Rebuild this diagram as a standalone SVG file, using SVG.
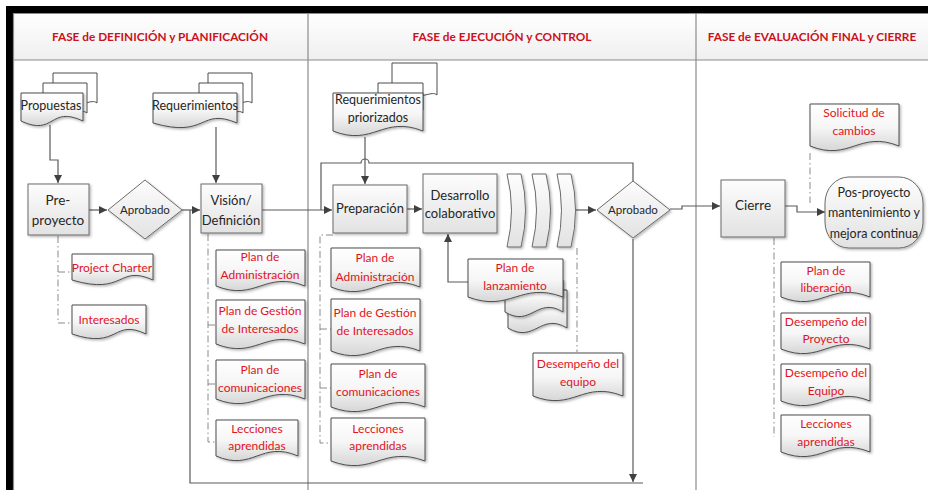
<svg xmlns="http://www.w3.org/2000/svg" width="928" height="490" viewBox="0 0 928 490">
<defs>
<linearGradient id="gBox" x1="0" y1="0" x2="0" y2="1"><stop offset="0" stop-color="#fdfdfd"/><stop offset="1" stop-color="#e2e2e2"/></linearGradient>
<linearGradient id="gDoc" x1="0" y1="0" x2="0" y2="1"><stop offset="0" stop-color="#ffffff"/><stop offset="0.5" stop-color="#f6f6f6"/><stop offset="1" stop-color="#d6d6d6"/></linearGradient>
<linearGradient id="gHead" x1="0" y1="0" x2="0" y2="1"><stop offset="0" stop-color="#ffffff"/><stop offset="1" stop-color="#efefef"/></linearGradient>
<filter id="sh" x="-10%" y="-10%" width="125%" height="130%"><feDropShadow dx="1.5" dy="1.5" stdDeviation="1" flood-color="#000" flood-opacity="0.28"/></filter>
<marker id="arr" markerWidth="8" markerHeight="8" refX="8" refY="4" orient="auto" markerUnits="userSpaceOnUse"><path d="M0,0 L8,4 L0,8 Z" fill="#404040"/></marker>
<style>
.box{fill:url(#gBox);stroke:#6b6b6b;stroke-width:1;filter:url(#sh)}
.doc{fill:url(#gDoc);stroke:#4d4d4d;stroke-width:1;filter:url(#sh)}
.docb{fill:#ffffff;stroke:#4d4d4d;stroke-width:1}
.con{fill:none;stroke:#5a5a5a;stroke-width:1.2}
.arw{marker-end:url(#arr)}
.dd{fill:none;stroke:#8a8a8a;stroke-width:1;stroke-dasharray:7 3 1.5 3}
.lane{fill:none;stroke:#8c8c8c;stroke-width:1.2}
.t{font-family:Lato,"Liberation Sans",sans-serif;font-size:13px;fill:#262626;text-anchor:middle}
.ts{font-family:Lato,"Liberation Sans",sans-serif;font-size:12.5px;fill:#262626;text-anchor:middle}
.r{font-family:Lato,"Liberation Sans",sans-serif;font-size:12px;fill:#e0141e;text-anchor:middle}
.h{font-family:Lato,"Liberation Sans",sans-serif;font-size:11.8px;font-weight:bold;fill:#cc1020;text-anchor:middle}
</style>
</defs>

<g id="frame">
<rect x="6" y="6" width="922" height="484" fill="#000"/>
<rect x="13" y="13" width="915" height="477" fill="#fff"/>
<rect x="13" y="13" width="915" height="47" fill="url(#gHead)"/>
<path class="lane" d="M13,13.5 H928 M13,60 H928 M308,13 V490 M696,13 V490 M13.5,13 V490"/>
<text class="h" x="160" y="41">FASE de DEFINICIÓN y PLANIFICACIÓN</text>
<text class="h" x="502" y="41">FASE de EJECUCIÓN y CONTROL</text>
<text class="h" x="812" y="41">FASE de EVALUACIÓN FINAL y CIERRE</text>
</g>

<g id="connectors">
<path class="con arw" d="M50,125 V160 H58 V183"/>
<path class="con arw" d="M89,210 H107"/>
<path class="con arw" d="M182,210 H200"/>
<path class="con arw" d="M216,127 V183"/>
<path class="con arw" d="M262,210 H332"/>
<path class="con arw" d="M365,137 V184"/>
<path class="con" d="M633,181 V163 H369 A4,4 0 0 0 361,163 H321 V210"/>
<path class="con arw" d="M407,209 H422"/>
<path class="con arw" d="M575,210 H596"/>
<path class="con arw" d="M670,209 H682 V206 H720"/>
<path class="con arw" d="M633,239 V482"/>
<path class="con" d="M643,483 H190 V210"/>
<path class="con arw" d="M785,206 H797 V212 H825"/>
<path class="con arw" d="M468,282 H448 V234"/>
<path class="dd" d="M58,236 V323 H71 M58,272 H71"/>
<path class="dd" d="M208,234 V442 H216 M208,325 H216 M208,384 H216"/>
<path class="dd" d="M333,235 H320 V443 H331 M320,329 H331 M320,388 H331"/>
<path class="dd" d="M577,248 V352"/>
<path class="dd" d="M810,153 V203"/>
<path class="dd" d="M774,238 V437"/>
</g>

<g id="propuestas">
<path class="docb" d="M53,73 H97 V103 C91,98 86,108 53,103 Z"/>
<path class="docb" d="M43,83 H87 V113 C81,108 76,118 43,113 Z"/>
<path class="doc" d="M21,93 H83 V121 C48.9,105 55.1,137 21,121 Z"/>
<text class="ts" x="51" y="110">Propuestas</text>
</g>

<g id="requerimientos">
<path class="docb" d="M208,73 H252 V103 C246,98 241,108 208,103 Z"/>
<path class="docb" d="M199,83 H243 V113 C237,108 232,118 199,113 Z"/>
<path class="doc" d="M153,93 H237 V123 C199.2,107 207.8,139 153,123 Z"/>
<text class="ts" x="195" y="110">Requerimientos</text>
</g>

<g id="pre-proyecto">
<rect class="box" x="28" y="184" width="61" height="51"/>
<text class="t" x="58" y="205" style="font-size:13.5px">Pre-</text>
<text class="t" x="58" y="225" style="font-size:13.5px">proyecto</text>
</g>

<g id="aprobado1">
<path class="box" d="M145,180 L182,210 L145,239 L108,210 Z"/>
<text class="ts" x="145" y="214" style="font-size:11.5px">Aprobado</text>
</g>

<g id="vision">
<rect class="box" x="201" y="184" width="61" height="49"/>
<text class="t" x="231" y="205">Visión/</text>
<text class="t" x="231" y="225">Definición</text>
</g>

<g id="project-charter">
<path class="doc" d="M72,254 H153 V280 C117.5,264 125.5,296 72,280 Z"/>
<text class="r" x="112" y="272">Project Charter</text>
</g>

<g id="interesados">
<path class="doc" d="M72,305 H146 V334 C112.5,318 119.5,350 72,334 Z"/>
<text class="r" x="109" y="324">Interesados</text>
</g>

<g id="v-plan-admin">
<path class="doc" d="M216,250 H305 V286 C265,270 256,302 216,286 Z"/>
<text class="r" x="260" y="261">Plan de</text>
<text class="r" x="260" y="279">Administración</text>
</g>
<g id="v-plan-gestion">
<path class="doc" d="M216,300 H305 V344 C265,328 256,360 216,344 Z"/>
<text class="r" x="260" y="315">Plan de Gestión</text>
<text class="r" x="260" y="333">de Interesados</text>
</g>
<g id="v-plan-com">
<path class="doc" d="M216,360 H305 V399 C265,383 256,415 216,399 Z"/>
<text class="r" x="260" y="374">Plan  de</text>
<text class="r" x="260" y="392">comunicaciones</text>
</g>
<g id="v-lecciones">
<path class="doc" d="M216,420 H298 V456 C261,440 253,472 216,456 Z"/>
<text class="r" x="257" y="433">Lecciones</text>
<text class="r" x="257" y="450">aprendidas</text>
</g>

<g id="req-priorizados">
<path class="docb" d="M392,63 H437 V95 C431,90 426,100 392,95 Z"/>
<path class="docb" d="M378,83 H423 V110 C417,105 412,115 378,110 Z"/>
<path class="doc" d="M333,93 H423 V131 C382.5,115 373.5,147 333,131 Z"/>
<text class="ts" x="378" y="104">Requerimientos</text>
<text class="ts" x="378" y="122">priorizados</text>
</g>

<g id="preparacion">
<rect class="box" x="333" y="185" width="74" height="48"/>
<text class="t" x="370" y="213">Preparación</text>
</g>

<g id="desarrollo">
<rect class="box" x="423" y="174" width="74" height="59"/>
<text class="t" x="460" y="200">Desarrollo</text>
<text class="t" x="460" y="218">colaborativo</text>
</g>

<g id="iteraciones">
<path class="box" d="M507,174 H521 Q530,210 521,247 H507 Q516,210 507,174 Z"/>
<path class="box" d="M532,174 H546 Q555,210 546,247 H532 Q541,210 532,174 Z"/>
<path class="box" d="M557,174 H571 Q580,210 571,247 H557 Q566,210 557,174 Z"/>
</g>

<g id="aprobado2">
<path class="box" d="M633,181 L670,210 L633,238 L597,210 Z"/>
<text class="ts" x="633" y="214" style="font-size:11.5px">Aprobado</text>
</g>

<g id="p-plan-admin">
<path class="doc" d="M331,248 H420 V287 C380,271 371,303 331,287 Z"/>
<text class="r" x="375" y="262">Plan de</text>
<text class="r" x="375" y="281">Administración</text>
</g>
<g id="p-plan-gestion">
<path class="doc" d="M331,299 H420 V351 C380,335 371,367 331,351 Z"/>
<text class="r" x="375" y="317">Plan de Gestión</text>
<text class="r" x="375" y="335">de Interesados</text>
</g>
<g id="p-plan-com">
<path class="doc" d="M331,364 H425 V407 C382.7,391 373.3,423 331,407 Z"/>
<text class="r" x="378" y="378">Plan  de</text>
<text class="r" x="378" y="396">comunicaciones</text>
</g>
<g id="p-lecciones">
<path class="doc" d="M331,418 H425 V461 C382.7,445 373.3,477 331,461 Z"/>
<text class="r" x="378" y="433">Lecciones</text>
<text class="r" x="378" y="450">aprendidas</text>
</g>

<g id="plan-lanzamiento">
<path class="doc" d="M508,290 H567 V328 C540.5,312 534.5,344 508,328 Z"/>
<path class="doc" d="M505,280 H563 V312 C537,296 531,328 505,312 Z"/>
<path class="doc" d="M468,259 H563 V297 C520.3,281 510.8,313 468,297 Z"/>
<text class="r" x="515" y="272">Plan de</text>
<text class="r" x="515" y="290">lanzamiento</text>
</g>

<g id="desempeno-equipo">
<path class="doc" d="M533,353 H623 V396 C582.5,380 573.5,412 533,396 Z"/>
<text class="r" x="578" y="368">Desempeño del</text>
<text class="r" x="578" y="386">equipo</text>
</g>

<g id="cierre">
<rect class="box" x="721" y="180" width="64" height="57"/>
<text class="t" x="753" y="210" style="font-size:13.5px">Cierre</text>
</g>

<g id="pos-proyecto">
<rect class="box" x="825" y="177" width="98" height="71" rx="24" ry="26"/>
<text class="t" x="874" y="197" style="font-size:12.5px">Pos-proyecto</text>
<text class="t" x="874" y="217" style="font-size:12.5px">mantenimiento y</text>
<text class="t" x="874" y="238" style="font-size:12.5px">mejora continua</text>
</g>

<g id="solicitud">
<path class="doc" d="M810,104 H899 V146 C859,130 850,162 810,146 Z"/>
<text class="r" x="854" y="117">Solicitud de</text>
<text class="r" x="854" y="135">cambios</text>
</g>

<g id="c-plan-liberacion">
<path class="doc" d="M781,262 H870 V297 C830,281 821,313 781,297 Z"/>
<text class="r" x="826" y="275">Plan de</text>
<text class="r" x="826" y="292">liberación</text>
</g>
<g id="c-desempeno-proyecto">
<path class="doc" d="M781,313 H870 V349 C830,333 821,365 781,349 Z"/>
<text class="r" x="826" y="326">Desempeño del</text>
<text class="r" x="826" y="343">Proyecto</text>
</g>
<g id="c-desempeno-equipo">
<path class="doc" d="M781,364 H870 V401 C830,385 821,417 781,401 Z"/>
<text class="r" x="826" y="377">Desempeño del</text>
<text class="r" x="826" y="395">Equipo</text>
</g>
<g id="c-lecciones">
<path class="doc" d="M781,415 H870 V452 C830,436 821,468 781,452 Z"/>
<text class="r" x="826" y="428">Lecciones</text>
<text class="r" x="826" y="446">aprendidas</text>
</g>
</svg>
